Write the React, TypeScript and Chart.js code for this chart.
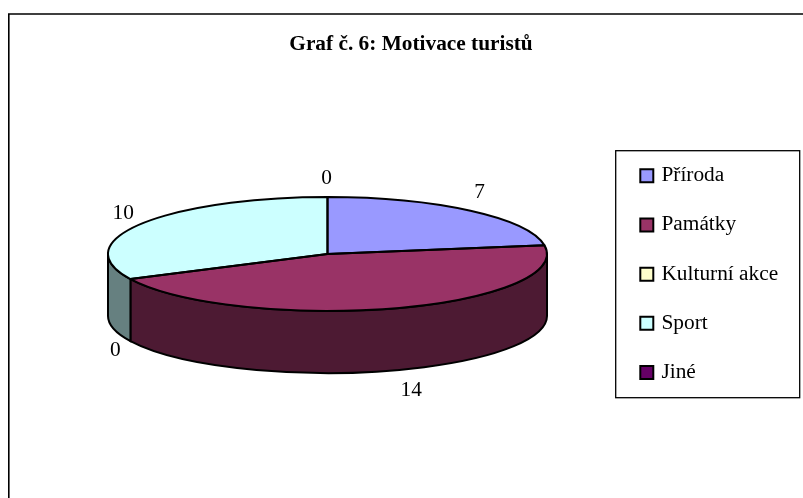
import React, { useEffect, useRef } from "react";
import { Chart, registerables } from "chart.js";

Chart.register(...registerables);

const titleText = "Graf č. 6: Motivace turistů";
const categories = ["Příroda", "Památky", "Kulturní akce", "Sport", "Jiné"];
const values = [7, 14, 0, 10, 0];
const topColors = ["#9999FF", "#993366", "#FFFFCC", "#CCFFFF", "#660066"];
const sideColors = ["#4D4D80", "#4D1A33", "#808066", "#668080", "#330033"];
const labelNudgeX = [9, 18, -15, -18, -1];
const labelNudgeY = [-20, 19, 8, -12, -20];

const FONT = '"Liberation Serif", serif';
const FONT_SIZE = 21.33;
const CX = 327.5;
const CY = 254;
const RX = 219.5;
const RY = 57;
const DEPTH = 62;
const LINE = 2;

const piePlugin = {
  id: "pie3d",
  afterLayout(chart: any) {
    const lg = chart.legend;
    const p = lg.options.labels.padding;
    const w = lg.right - lg.left;
    const h = lg.bottom - lg.top;
    lg.left = 642.8 - p;
    lg.right = lg.left + w;
    lg.top = 165 - p;
    lg.bottom = lg.top + h;
  },
  beforeDraw(chart: any) {
    const ctx = chart.ctx;
    ctx.save();
    ctx.strokeStyle = "#000";
    ctx.lineWidth = 1.6;
    ctx.beginPath();
    ctx.moveTo(8.8, 498);
    ctx.lineTo(8.8, 14);
    ctx.lineTo(803, 14);
    ctx.stroke();
    ctx.lineWidth = 1.3;
    ctx.strokeRect(615.7, 150.7, 184, 247);
    ctx.restore();
  },
  beforeDatasetsDraw(chart: any) {
    const ctx = chart.ctx;
    const arcs = chart.getDatasetMeta(0).data;
    ctx.save();
    ctx.lineWidth = LINE;
    ctx.strokeStyle = "#000";
    arcs.forEach((a: any, i: number) => {
      const from = Math.max(a.startAngle, 0);
      const to = Math.min(a.endAngle, Math.PI);
      if (to <= from) return;
      ctx.beginPath();
      ctx.ellipse(CX, CY, RX, RY, 0, from, to);
      ctx.ellipse(CX, CY + DEPTH, RX, RY, 0, to, from, true);
      ctx.closePath();
      ctx.fillStyle = sideColors[i];
      ctx.fill();
      ctx.stroke();
    });
    ctx.restore();
    // squash the library's own pie into the ellipse of the top face
    ctx.save();
    const c = arcs[0];
    ctx.translate(CX, CY);
    ctx.scale(1, RY / RX);
    ctx.translate(-c.x, -c.y);
  },
  afterDatasetsDraw(chart: any) {
    const ctx = chart.ctx;
    ctx.restore();
    const arcs = chart.getDatasetMeta(0).data;
    ctx.save();
    ctx.lineWidth = LINE;
    ctx.strokeStyle = "#000";
    ctx.lineJoin = "round";
    arcs.forEach((a: any) => {
      if (a.endAngle - a.startAngle <= 0) return;
      ctx.beginPath();
      ctx.moveTo(CX, CY);
      ctx.ellipse(CX, CY, RX, RY, 0, a.startAngle, a.endAngle);
      ctx.closePath();
      ctx.stroke();
    });
    ctx.font = `${FONT_SIZE}px ${FONT}`;
    ctx.fillStyle = "#000";
    ctx.textAlign = "center";
    ctx.textBaseline = "alphabetic";
    arcs.forEach((a: any, i: number) => {
      const mid = (a.startAngle + a.endAngle) / 2;
      const front = Math.sin(mid) > 0 ? DEPTH : 0;
      const x = CX + RX * Math.cos(mid) + labelNudgeX[i];
      const y = CY + RY * Math.sin(mid) + front + labelNudgeY[i] + 7;
      ctx.fillText(String(values[i]), x, y);
    });
    ctx.restore();
  },
};

export default function App() {
  const ref = useRef<HTMLCanvasElement>(null);
  useEffect(() => {
    const chart = new Chart(ref.current!, {
      type: "pie",
      plugins: [piePlugin],
      data: {
        labels: categories,
        datasets: [
          {
            data: values,
            backgroundColor: topColors,
            borderWidth: 0,
            radius: RX,
          },
        ],
      },
      options: {
        responsive: false,
        animation: false,
        layout: { padding: { left: 22, right: 3, top: 0, bottom: 0 } },
        plugins: {
          tooltip: { enabled: false },
          title: {
            display: true,
            text: titleText,
            color: "#000",
            font: { family: FONT, size: FONT_SIZE, weight: "bold" },
            padding: { top: 31.9, bottom: 10 },
          },
          legend: {
            position: "right",
            align: "start",
            labels: {
              color: "#000",
              font: { family: FONT, size: FONT_SIZE },
              usePointStyle: true,
              boxWidth: 8,
              boxHeight: 13,
              padding: 27.9,
              generateLabels: () =>
                categories.map((text, i) => ({
                  text,
                  fillStyle: topColors[i],
                  strokeStyle: "#000",
                  lineWidth: 2,
                  pointStyle: "rect",
                  fontColor: "#000",
                  hidden: false,
                  index: i,
                })),
            },
          },
        },
      },
    } as any);
    return () => chart.destroy();
  }, []);
  return (
    <div style={{ position: "absolute", left: 0, top: 0, width: 803, height: 498, background: "#fff" }}>
      <canvas ref={ref} width={803} height={498} style={{ display: "block" }} />
    </div>
  );
}
